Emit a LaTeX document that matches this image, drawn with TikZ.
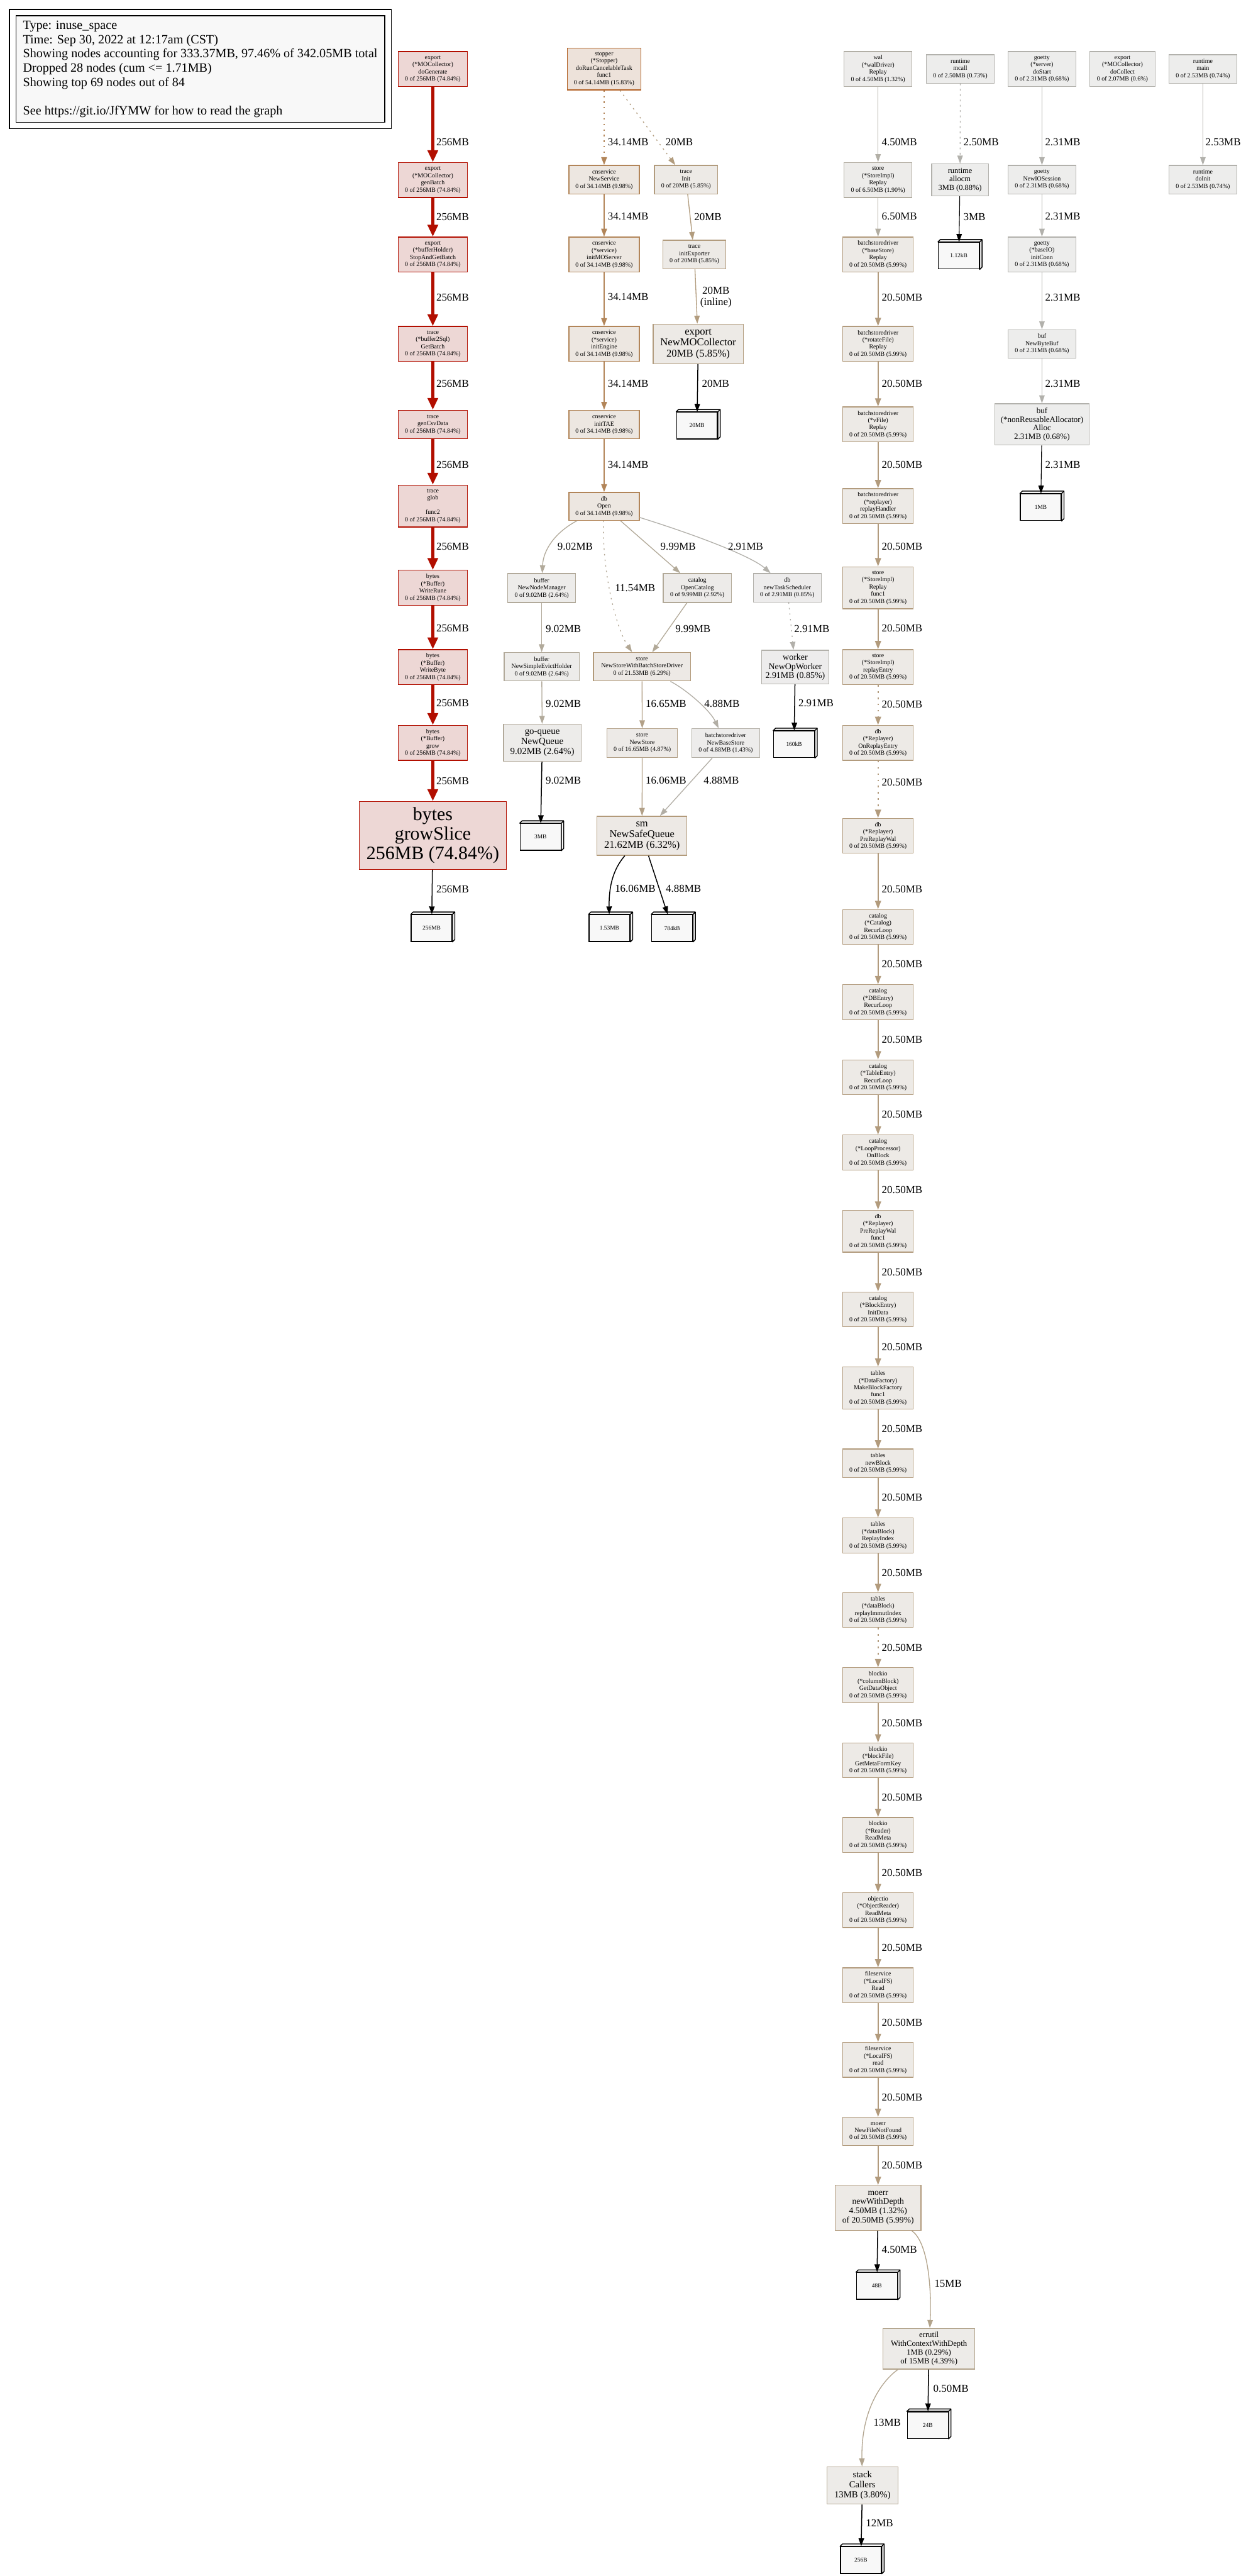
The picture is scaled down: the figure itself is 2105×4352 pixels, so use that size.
\documentclass[tikz,border=0pt]{standalone}
\usepackage{fontspec}
\setmainfont{Liberation Serif}
\usetikzlibrary{arrows.meta}
\definecolor{cRed}{HTML}{B20E00}\definecolor{fRed}{HTML}{EDD7D5}
\definecolor{cStop}{HTML}{B26125}\definecolor{fStop}{HTML}{EDE2DA}
\definecolor{c34}{HTML}{B28559}\definecolor{f34}{HTML}{EDE7E1}
\definecolor{c20}{HTML}{B29C7E}\definecolor{f20}{HTML}{EDEAE6}
\definecolor{c902}{HTML}{B2AA9B}\definecolor{f902}{HTML}{EDECEA}
\definecolor{c999}{HTML}{B2A998}\definecolor{f999}{HTML}{EDEBE9}
\definecolor{c1154}{HTML}{B2A794}
\definecolor{c291}{HTML}{B2B0AA}\definecolor{f291}{HTML}{EDECEC}
\definecolor{c2153}{HTML}{B29A7A}\definecolor{f2153}{HTML}{EDE9E5}
\definecolor{c1665}{HTML}{B2A087}\definecolor{f1665}{HTML}{EDEAE7}
\definecolor{c488}{HTML}{B2AEA5}\definecolor{f488}{HTML}{EDECEB}
\definecolor{c450}{HTML}{B2AFA6}
\definecolor{c650}{HTML}{B2ADA1}
\definecolor{cgr}{HTML}{B2B1AC}\definecolor{fgr}{HTML}{EDEDEC}
\definecolor{c2050}{HTML}{B29B7D}\definecolor{f2050}{HTML}{EDEAE6}
\definecolor{c15}{HTML}{B2A38B}\definecolor{f15}{HTML}{EDEBE8}
\definecolor{c13}{HTML}{B2A590}
\definecolor{leaffill}{HTML}{F8F8F8}
\tikzset{
  nd/.style 2 args={fill=#1, draw=#2, line width=0.67pt, inner sep=0pt, align=center, font=\fontsize{5.3}{6.1}\selectfont},
  bw/.style={minimum width=#1*0.5pt},
  bh/.style={minimum height=#1*0.5pt},
  lbl/.style={inner sep=0pt, anchor=west, font=\fontsize{9}{9.5}\selectfont},
  leafbox/.style={draw=black, fill=leaffill, line width=0.75pt, minimum width=34.5pt, minimum height=22.5pt, inner sep=0pt, font=\fontsize{5}{6}\selectfont},
  leafline/.style={draw=black, line width=0.75pt, line join=round},
  E/.style={draw=#1, line width=0.7pt, -{Triangle[length=6.7pt,width=4.6pt]}},
  E34/.style={draw=c34, line width=1pt, -{Triangle[length=6.7pt,width=4.8pt]}},
  redE/.style={draw=cRed, line width=2.7pt, -{Triangle[length=10pt,width=8.5pt]}},
  chE/.style={draw=c2050, line width=1.15pt, -{Triangle[length=7pt,width=5pt]}},
  lfE/.style={draw=black, line width=0.8pt, -{Triangle[length=6.7pt,width=4.6pt]}},
  dotE/.style={dash pattern=on 1.2pt off 3.5pt},
}
\newcommand\leafnode[4]{%
  \node[leafbox] (#1) at (#2-2,#3+2) {#4};
  \draw[leafline, fill=leaffill] (#1.north west) -- ++(2pt,2pt) -- ([shift={(2pt,2pt)}]#1.north east) -- ([shift={(2pt,2pt)}]#1.south east) -- (#1.south east) -- (#1.north east) -- cycle;
  \draw[leafline] (#1.north east) -- ++(2pt,2pt);
}
\begin{document}
\begin{tikzpicture}[x=0.5pt,y=-0.5pt]
\fill[white] (0,0) rectangle (2105,4352);
\useasboundingbox (0,0) rectangle (2105,4352);
% legend
\node[draw=black, line width=0.6pt, minimum width=645*0.5pt, minimum height=201*0.5pt, inner sep=0pt] (legframe) at (338.5,116.5) {};
\node[draw=black, fill=leaffill, line width=0.9pt, minimum width=623*0.5pt, minimum height=180*0.5pt, inner sep=0pt, align=left, font=\fontsize{10.7}{12}\selectfont] (legend) at (338.5,116.8) {Type: inuse\_space\\Time: Sep 30, 2022 at 12:17am (CST)\\Showing nodes accounting for 333.37MB, 97.46\% of 342.05MB total\\Dropped 28 nodes (cum <= 1.71MB)\\Showing top 69 nodes out of 84\\\mbox{}\\See https://git.io/JfYMW for how to read the graph};

% ===== left red column
\node[nd={fRed}{cRed},bw=117,bh=59] (n0) at (731.5,116.5) {export\\(*MOCollector)\\doGenerate\\0 of 256MB (74.84\%)};
\node[nd={fRed}{cRed},bw=117,bh=59] (n1) at (731.5,304) {export\\(*MOCollector)\\genBatch\\0 of 256MB (74.84\%)};
\node[nd={fRed}{cRed},bw=117,bh=59] (n2) at (731.5,430) {export\\(*bufferHolder)\\StopAndGetBatch\\0 of 256MB (74.84\%)};
\node[nd={fRed}{cRed},bw=117,bh=59] (n3) at (731.5,581) {trace\\(*buffer2Sql)\\GetBatch\\0 of 256MB (74.84\%)};
\node[nd={fRed}{cRed},bw=117,bh=48] (n4) at (731.5,717) {trace\\genCsvData\\0 of 256MB (74.84\%)};
\node[nd={fRed}{cRed},bw=117,bh=71] (n5) at (731.5,855) {trace\\glob\\\mbox{}\\func2\\0 of 256MB (74.84\%)};
\node[nd={fRed}{cRed},bw=117,bh=59] (n6) at (731.5,993) {bytes\\(*Buffer)\\WriteRune\\0 of 256MB (74.84\%)};
\node[nd={fRed}{cRed},bw=117,bh=59] (n7) at (731.5,1127) {bytes\\(*Buffer)\\WriteByte\\0 of 256MB (74.84\%)};
\node[nd={fRed}{cRed},bw=117,bh=59] (n8) at (731.5,1255) {bytes\\(*Buffer)\\grow\\0 of 256MB (74.84\%)};
\node[nd={fRed}{cRed},bw=248,bh=115,font=\fontsize{15.9}{16.5}\selectfont] (n9) at (731.5,1411.5) {bytes\\growSlice\\256MB (74.84\%)};
\leafnode{b256}{731.5}{1566}{256MB}
\draw[redE] (n0) -- (n1);
\draw[redE] (n1) -- (n2);
\draw[redE] (n2) -- (n3);
\draw[redE] (n3) -- (n4);
\draw[redE] (n4) -- (n5);
\draw[redE] (n5) -- (n6);
\draw[redE] (n6) -- (n7);
\draw[redE] (n7) -- (n8);
\draw[redE] (n8) -- (n9);
\draw[lfE] (n9) -- (b256);
\foreach \yy/\nm in {240/a,366/b,503/c,648/d,785/e,923/f,1061/g,1188/h,1320/i,1502/j} \node[lbl] (lL\nm) at (737,\yy) {256MB};

% ===== middle column
\node[nd={fStop}{cStop},bw=124,bh=71] (stop) at (1021,116.5) {stopper\\(*Stopper)\\doRunCancelableTask\\func1\\0 of 54.14MB (15.83\%)};
\node[nd={f34}{c34},bw=119,bh=48] (nsvc) at (1021,303.5) {cnservice\\NewService\\0 of 34.14MB (9.98\%)};
\node[nd={f34}{c34},bw=119,bh=59] (imo) at (1021,430) {cnservice\\(*service)\\initMOServer\\0 of 34.14MB (9.98\%)};
\node[nd={f34}{c34},bw=119,bh=59] (ieng) at (1021,581) {cnservice\\(*service)\\initEngine\\0 of 34.14MB (9.98\%)};
\node[nd={f34}{c34},bw=119,bh=48] (itae) at (1021,717) {cnservice\\initTAE\\0 of 34.14MB (9.98\%)};
\node[nd={f34}{c34},bw=119,bh=47] (dbo) at (1021,855.5) {db\\Open\\0 of 34.14MB (9.98\%)};
\node[nd={f20}{c20},bw=107,bh=48] (tinit) at (1159.5,303.5) {trace\\Init\\0 of 20MB (5.85\%)};
\node[nd={f20}{c20},bw=107,bh=48] (texp) at (1173.5,430) {trace\\initExporter\\0 of 20MB (5.85\%)};
\node[nd={f20}{c20},bw=152,bh=67,font=\fontsize{8.85}{9.2}\selectfont] (nmc) at (1180,581) {export\\NewMOCollector\\20MB (5.85\%)};
\leafnode{b20}{1180}{717}{20MB}
\draw[E34,dotE] (stop) -- (nsvc);
\draw[E34] (nsvc) -- (imo);
\draw[E34] (imo) -- (ieng);
\draw[E34] (ieng) -- (itae);
\draw[E34] (itae) -- (dbo);
\draw[E=c20,dotE] (stop) -- (tinit);
\draw[E=c20] (tinit) -- (texp);
\draw[E=c20] (texp) -- (nmc);
\draw[lfE] (nmc) -- (b20);
\foreach \yy/\nm in {240/a,366/b,502/c,648/d,785/e} \node[lbl] (lM\nm) at (1027,\yy) {34.14MB};
\node[lbl,anchor=center] (lt1) at (1148,240) {20MB};
\node[lbl] (lt2) at (1173,366) {20MB};
\node[lbl,anchor=center,align=center] (lt3) at (1210,502) {20MB\\(inline)};
\node[lbl] (lt4) at (1186,648) {20MB};

\node[nd={f902}{c902},bw=115,bh=49] (nnm) at (915.5,993.5) {buffer\\NewNodeManager\\0 of 9.02MB (2.64\%)};
\node[nd={f999}{c999},bw=115,bh=49] (ocat) at (1178.5,993.5) {catalog\\OpenCatalog\\0 of 9.99MB (2.92\%)};
\node[nd={f291}{c291},bw=115,bh=48] (dg) at (1330.5,993) {db\\newTaskScheduler\\0 of 2.91MB (0.85\%)};
\node[nd={f902}{c902},bw=127,bh=48] (nseh) at (915.5,1126.5) {buffer\\NewSimpleEvictHolder\\0 of 9.02MB (2.64\%)};
\node[nd={f2153}{c2153},bw=164,bh=48] (nswb) at (1085,1126.5) {store\\NewStoreWithBatchStoreDriver\\0 of 21.53MB (6.29\%)};
\node[nd={f291}{c291},bw=114,bh=57,font=\fontsize{7.4}{7.7}\selectfont] (wrk) at (1344,1127) {worker\\NewOpWorker\\2.91MB (0.85\%)};
\node[nd={f902}{c902},bw=131,bh=63,font=\fontsize{7.95}{8.3}\selectfont] (nq) at (916.5,1255) {go-queue\\NewQueue\\9.02MB (2.64\%)};
\node[nd={f1665}{c1665},bw=119,bh=49] (nst) at (1085.5,1255.5) {store\\NewStore\\0 of 16.65MB (4.87\%)};
\node[nd={f488}{c488},bw=115,bh=49] (nbs) at (1226.5,1255.5) {batchstoredriver\\NewBaseStore\\0 of 4.88MB (1.43\%)};
\leafnode{b160}{1344}{1255.5}{160kB}
\leafnode{b3}{915.5}{1412}{3MB}
\node[nd={f2153}{c2153},bw=152,bh=66,font=\fontsize{8.75}{9}\selectfont] (sm) at (1085,1412) {sm\\NewSafeQueue\\21.62MB (6.32\%)};
\leafnode{b153}{1032}{1566}{1.53MB}
\leafnode{b784}{1138}{1566}{784kB}

\draw[E=c902] (dbo) .. controls (937,900) and (918,930) .. (nnm);
\draw[E=c1154,dotE] (dbo) .. controls (1017,960) and (1040,1060) .. (nswb);
\draw[E=c999] (dbo) -- (ocat);
\draw[E=c291] (dbo) .. controls (1180,905) and (1270,940) .. (dg);
\draw[E=c999] (ocat) -- (nswb);
\draw[E=c902] (nnm) -- (nseh);
\draw[E=c902] (nseh) -- (nq);
\draw[lfE] (nq) -- (b3);
\draw[E=c291,dotE] (dg) -- (wrk);
\draw[lfE] (wrk) -- (b160);
\draw[E=c1665] (nswb) -- (nst);
\draw[E=c488] (nswb) .. controls (1160,1165) and (1200,1200) .. (nbs);
\draw[E=c1665] (nst) -- (sm);
\draw[E=c488] (nbs) -- (sm);
\draw[lfE] (sm) .. controls (1035,1470) and (1029,1500) .. (b153);
\draw[lfE] (sm) -- (b784);
\node[lbl] (l1) at (942,923) {9.02MB};
\node[lbl] (l2) at (1039,993) {11.54MB};
\node[lbl] (l3) at (1116,923) {9.99MB};
\node[lbl] (l4) at (1230,923) {2.91MB};
\node[lbl] (l5) at (922,1062) {9.02MB};
\node[lbl] (l6) at (1141,1062) {9.99MB};
\node[lbl] (l7) at (1342,1062) {2.91MB};
\node[lbl] (l8) at (922,1189) {9.02MB};
\node[lbl] (l9) at (1091,1189) {16.65MB};
\node[lbl] (l10) at (1190,1189) {4.88MB};
\node[lbl] (l11) at (1349,1188) {2.91MB};
\node[lbl] (l12) at (922,1319) {9.02MB};
\node[lbl] (l13) at (1091,1319) {16.06MB};
\node[lbl] (l14) at (1189,1319) {4.88MB};
\node[lbl] (l15) at (1039,1501) {16.06MB};
\node[lbl] (l16) at (1125,1501) {4.88MB};

% ===== right top
\node[nd={f488}{c450},bw=115,bh=59] (wal) at (1484,116.5) {wal\\(*walDriver)\\Replay\\0 of 4.50MB (1.32\%)};
\node[nd={fgr}{cgr},bw=115,bh=48] (mcall) at (1623,116.5) {runtime\\mcall\\0 of 2.50MB (0.73\%)};
\node[nd={fgr}{cgr},bw=115,bh=59] (dost) at (1761,116.5) {goetty\\(*server)\\doStart\\0 of 2.31MB (0.68\%)};
\node[nd={fgr}{cgr},bw=110,bh=59] (docol) at (1897,116.5) {export\\(*MOCollector)\\doCollect\\0 of 2.07MB (0.6\%)};
\node[nd={fgr}{cgr},bw=115,bh=48] (rmain) at (2033,116.5) {runtime\\main\\0 of 2.53MB (0.74\%)};
\node[nd={f902}{c650},bw=115,bh=59] (srep) at (1484,304) {store\\(*StoreImpl)\\Replay\\0 of 6.50MB (1.90\%)};
\node[nd={fgr}{cgr},bw=96,bh=54,font=\fontsize{6.6}{7.15}\selectfont] (allocm) at (1622.5,304) {runtime\\allocm\\3MB (0.88\%)};
\node[nd={fgr}{cgr},bw=115,bh=48] (nios) at (1761,303.5) {goetty\\NewIOSession\\0 of 2.31MB (0.68\%)};
\node[nd={fgr}{cgr},bw=115,bh=48] (dinit) at (2033,303.5) {runtime\\doInit\\0 of 2.53MB (0.74\%)};
\leafnode{b112}{1622.5}{430}{1.12kB}
\node[nd={fgr}{cgr},bw=115,bh=59] (iconn) at (1761,430) {goetty\\(*baseIO)\\initConn\\0 of 2.31MB (0.68\%)};
\node[nd={fgr}{cgr},bw=115,bh=48] (nbb) at (1761,581) {buf\\NewByteBuf\\0 of 2.31MB (0.68\%)};
\node[nd={fgr}{cgr},bw=160,bh=70,font=\fontsize{6.9}{7.4}\selectfont] (alloc) at (1761,717) {buf\\(*nonReusableAllocator)\\Alloc\\2.31MB (0.68\%)};
\leafnode{b1m}{1761}{855}{1MB}
\draw[E=c450] (wal) -- (srep);
\draw[E=cgr,dash pattern=on 1.5pt off 3pt,line width=0.6pt] (mcall) -- (allocm);
\draw[lfE,line width=0.6pt] (allocm) -- (b112);
\draw[E=cgr] (dost) -- (nios);
\draw[E=cgr] (nios) -- (iconn);
\draw[E=cgr] (iconn) -- (nbb);
\draw[E=cgr] (nbb) -- (alloc);
\draw[lfE,line width=0.6pt] (alloc) -- (b1m);
\draw[E=cgr] (rmain) -- (dinit);
\node[lbl] (r1) at (1490,240) {4.50MB};
\node[lbl] (r2) at (1628,240) {2.50MB};
\node[lbl] (r3) at (1766,240) {2.31MB};
\node[lbl] (r4) at (2037,240) {2.53MB};
\node[lbl] (r5) at (1490,366) {6.50MB};
\node[lbl] (r6) at (1628,366) {3MB};
\node[lbl] (r7) at (1766,366) {2.31MB};
\node[lbl] (r8) at (1766,503) {2.31MB};
\node[lbl] (r9) at (1766,648) {2.31MB};
\node[lbl] (r10) at (1766,785) {2.31MB};

% ===== chain
\node[nd={f2050}{c2050},bw=119,bh=59] (c2) at (1484,430) {batchstoredriver\\(*baseStore)\\Replay\\0 of 20.50MB (5.99\%)};
\node[nd={f2050}{c2050},bw=119,bh=59] (c3) at (1484,581) {batchstoredriver\\(*rotateFile)\\Replay\\0 of 20.50MB (5.99\%)};
\node[nd={f2050}{c2050},bw=119,bh=59] (c4) at (1484,717) {batchstoredriver\\(*vFile)\\Replay\\0 of 20.50MB (5.99\%)};
\node[nd={f2050}{c2050},bw=119,bh=59] (c5) at (1484,855) {batchstoredriver\\(*replayer)\\replayHandler\\0 of 20.50MB (5.99\%)};
\node[nd={f2050}{c2050},bw=119,bh=71] (c6) at (1484,993) {store\\(*StoreImpl)\\Replay\\func1\\0 of 20.50MB (5.99\%)};
\node[nd={f2050}{c2050},bw=119,bh=59] (c7) at (1484,1127) {store\\(*StoreImpl)\\replayEntry\\0 of 20.50MB (5.99\%)};
\node[nd={f2050}{c2050},bw=119,bh=59] (c8) at (1484,1255) {db\\(*Replayer)\\OnReplayEntry\\0 of 20.50MB (5.99\%)};
\node[nd={f2050}{c2050},bw=119,bh=59] (c9) at (1484,1412) {db\\(*Replayer)\\PreReplayWal\\0 of 20.50MB (5.99\%)};
\node[nd={f2050}{c2050},bw=119,bh=59] (c10) at (1484,1566) {catalog\\(*Catalog)\\RecurLoop\\0 of 20.50MB (5.99\%)};
\node[nd={f2050}{c2050},bw=119,bh=59] (c11) at (1484,1693) {catalog\\(*DBEntry)\\RecurLoop\\0 of 20.50MB (5.99\%)};
\node[nd={f2050}{c2050},bw=119,bh=59] (c12) at (1484,1820) {catalog\\(*TableEntry)\\RecurLoop\\0 of 20.50MB (5.99\%)};
\node[nd={f2050}{c2050},bw=119,bh=59] (c13) at (1484,1947) {catalog\\(*LoopProcessor)\\OnBlock\\0 of 20.50MB (5.99\%)};
\node[nd={f2050}{c2050},bw=119,bh=71] (c14) at (1484,2080) {db\\(*Replayer)\\PreReplayWal\\func1\\0 of 20.50MB (5.99\%)};
\node[nd={f2050}{c2050},bw=119,bh=59] (c15) at (1484,2212) {catalog\\(*BlockEntry)\\InitData\\0 of 20.50MB (5.99\%)};
\node[nd={f2050}{c2050},bw=119,bh=71] (c16) at (1484,2345) {tables\\(*DataFactory)\\MakeBlockFactory\\func1\\0 of 20.50MB (5.99\%)};
\node[nd={f2050}{c2050},bw=119,bh=48] (c17) at (1484,2472) {tables\\newBlock\\0 of 20.50MB (5.99\%)};
\node[nd={f2050}{c2050},bw=119,bh=59] (c18) at (1484,2594) {tables\\(*dataBlock)\\ReplayIndex\\0 of 20.50MB (5.99\%)};
\node[nd={f2050}{c2050},bw=119,bh=59] (c19) at (1484,2720) {tables\\(*dataBlock)\\replayImmutIndex\\0 of 20.50MB (5.99\%)};
\node[nd={f2050}{c2050},bw=119,bh=59] (c20) at (1484,2847) {blockio\\(*columnBlock)\\GetDataObject\\0 of 20.50MB (5.99\%)};
\node[nd={f2050}{c2050},bw=119,bh=59] (c21) at (1484,2974) {blockio\\(*blockFile)\\GetMetaFormKey\\0 of 20.50MB (5.99\%)};
\node[nd={f2050}{c2050},bw=119,bh=59] (c22) at (1484,3100) {blockio\\(*Reader)\\ReadMeta\\0 of 20.50MB (5.99\%)};
\node[nd={f2050}{c2050},bw=119,bh=59] (c23) at (1484,3227) {objectio\\(*ObjectReader)\\ReadMeta\\0 of 20.50MB (5.99\%)};
\node[nd={f2050}{c2050},bw=119,bh=59] (c24) at (1484,3354) {fileservice\\(*LocalFS)\\Read\\0 of 20.50MB (5.99\%)};
\node[nd={f2050}{c2050},bw=119,bh=59] (c25) at (1484,3480) {fileservice\\(*LocalFS)\\read\\0 of 20.50MB (5.99\%)};
\node[nd={f2050}{c2050},bw=119,bh=48] (c26) at (1484,3601) {moerr\\NewFileNotFound\\0 of 20.50MB (5.99\%)};
\node[nd={f2050}{c2050},bw=145,bh=76,font=\fontsize{7.2}{7.9}\selectfont] (nwd) at (1484,3730) {moerr\\newWithDepth\\4.50MB (1.32\%)\\of 20.50MB (5.99\%)};
\leafnode{b48}{1484}{3860}{48B}
\node[nd={f15}{c15},bw=155,bh=69,font=\fontsize{6.75}{7.5}\selectfont] (eru) at (1570,3968) {errutil\\WithContextWithDepth\\1MB (0.29\%)\\of 15MB (4.39\%)};
\leafnode{b24}{1570}{4095}{24B}
\node[nd={f15}{c13},bw=120,bh=63,font=\fontsize{7.85}{8.6}\selectfont] (stk) at (1457.5,4199) {stack\\Callers\\13MB (3.80\%)};
\leafnode{b256b}{1457}{4323}{256B}

\draw[E=c650] (srep) -- (c2);
\draw[chE] (c2) -- (c3);
\draw[chE] (c3) -- (c4);
\draw[chE] (c4) -- (c5);
\draw[chE] (c5) -- (c6);
\draw[chE] (c6) -- (c7);
\draw[chE,dotE,dash pattern=on 1.3pt off 4pt] (c7) -- (c8);
\draw[chE,dash pattern=on 1.3pt off 4pt] (c8) -- (c9);
\draw[chE] (c9) -- (c10);
\draw[chE] (c10) -- (c11);
\draw[chE] (c11) -- (c12);
\draw[chE] (c12) -- (c13);
\draw[chE] (c13) -- (c14);
\draw[chE] (c14) -- (c15);
\draw[chE] (c15) -- (c16);
\draw[chE] (c16) -- (c17);
\draw[chE] (c17) -- (c18);
\draw[chE] (c18) -- (c19);
\draw[chE,dash pattern=on 1.3pt off 4pt] (c19) -- (c20);
\draw[chE] (c20) -- (c21);
\draw[chE] (c21) -- (c22);
\draw[chE] (c22) -- (c23);
\draw[chE] (c23) -- (c24);
\draw[chE] (c24) -- (c25);
\draw[chE] (c25) -- (c26);
\draw[chE] (c26) -- (nwd);
\draw[lfE] (nwd) -- (b48);
\draw[E=c15] (nwd) .. controls (1565,3785) and (1575,3850) .. (eru);
\draw[lfE] (eru) -- (b24);
\draw[E=c13] (eru) .. controls (1500,4015) and (1455,4060) .. (stk);
\draw[lfE] (stk) -- (b256b);
\foreach \yy [count=\i] in {503,648,785,923,1061,1190,1322,1502,1629,1756,1883,2010,2149,2276,2414,2530,2657,2784,2911,3037,3164,3291,3417,3543,3658} \node[lbl] (lc\i) at (1490,\yy) {20.50MB};
\node[lbl] (lb1) at (1490,3800) {4.50MB};
\node[lbl] (lb2) at (1579,3858) {15MB};
\node[lbl] (lb3) at (1577,4035) {0.50MB};
\node[lbl] (lb4) at (1476,4093) {13MB};
\node[lbl] (lb5) at (1463,4263) {12MB};
\end{tikzpicture}
\end{document}
